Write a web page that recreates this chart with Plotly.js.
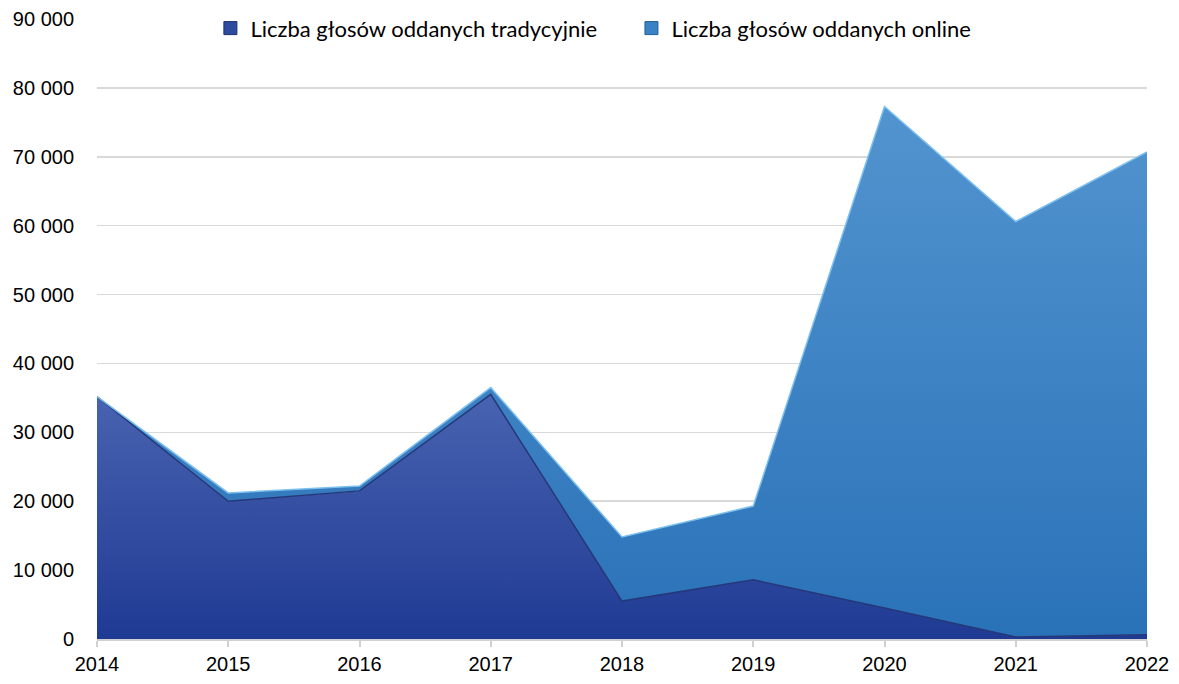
<!DOCTYPE html>
<html><head><meta charset="utf-8">
<script src="https://cdn.plot.ly/plotly-3.0.1.min.js"></script>
<style>html,body{margin:0;padding:0;background:#fff}</style>
</head><body><div id="chart" style="width:1179px;height:684px"></div>
<script>
const years = [2014, 2015, 2016, 2017, 2018, 2019, 2020, 2021, 2022];
const traditional = [35200, 20000, 21500, 35500, 5500, 8600, 4500, 300, 600];
const online = [0, 1200, 700, 1000, 9300, 10700, 72800, 60300, 70100];
const seriesNames = ["Liczba głosów oddanych tradycyjnie", "Liczba głosów oddanych online"];
const yTicks = [0, 10000, 20000, 30000, 40000, 50000, 60000, 70000, 80000, 90000];
const yTickText = ["0", "10 000", "20 000", "30 000", "40 000", "50 000", "60 000", "70 000", "80 000", "90 000"];

const traces = [
  {x: years, y: traditional, name: seriesNames[0], type: 'scatter', mode: 'lines', stackgroup: 'one',
   showlegend: false,
   line: {color: '#24387a', width: 1.5},
   fillcolor: '#2f4ba0',
   fillgradient: {type: 'vertical', colorscale: [[0, '#1f3a93'], [1, '#4863b0']]}},
  {x: years, y: online, name: seriesNames[1], type: 'scatter', mode: 'lines', stackgroup: 'one',
   showlegend: false,
   line: {color: '#7cc0f0', width: 1.5},
   fillcolor: '#3b82c4',
   fillgradient: {type: 'vertical', colorscale: [[0, '#2a72b8'], [1, '#5294cf']]}},
  {x: [null], y: [null], name: seriesNames[0], type: 'scatter', mode: 'markers', legend: 'legend',
   marker: {symbol: 'square', size: 13, color: '#2f4ba0', line: {color: '#1a2e70', width: 1}}},
  {x: [null], y: [null], name: seriesNames[1], type: 'scatter', mode: 'markers', legend: 'legend2',
   marker: {symbol: 'square', size: 13, color: '#3b82c4', line: {color: '#1f5f99', width: 1}}}
];

const legendFont = {family: 'Lato, "Open Sans", Arial, sans-serif', size: 22, color: '#000'};
const layout = {
  width: 1179, height: 684,
  margin: {l: 97, r: 32, t: 19, b: 45, autoexpand: false},
  paper_bgcolor: '#fff', plot_bgcolor: '#fff',
  font: {family: 'Arial, "Liberation Sans", sans-serif', size: 20, color: '#000'},
  showlegend: true,
  legend: {orientation: 'h', x: 0.108, xanchor: 'left', y: 0.985, yanchor: 'middle',
           font: legendFont, bgcolor: 'rgba(0,0,0,0)', itemwidth: 30},
  legend2: {orientation: 'h', x: 0.509, xanchor: 'left', y: 0.985, yanchor: 'middle',
           font: legendFont, bgcolor: 'rgba(0,0,0,0)', itemwidth: 30},
  xaxis: {range: [2014, 2022], tickvals: years, ticktext: years.map(String),
          showgrid: false, zeroline: false, showline: true, linecolor: '#d0d0d0', linewidth: 2,
          ticks: 'outside', ticklen: 6, tickcolor: '#d0d0d0', tickwidth: 2,
          tickfont: {size: 20}},
  yaxis: {range: [0, 90000], tickvals: yTicks, ticktext: yTickText,
          showgrid: true, gridcolor: '#d9d9d9', gridwidth: 1.5, zeroline: false, showline: false,
          ticks: '', ticklabelstandoff: 22,
          tickfont: {size: 20}}
};

Plotly.newPlot('chart', traces, layout, {displayModeBar: false, staticPlot: true});
</script></body></html>
